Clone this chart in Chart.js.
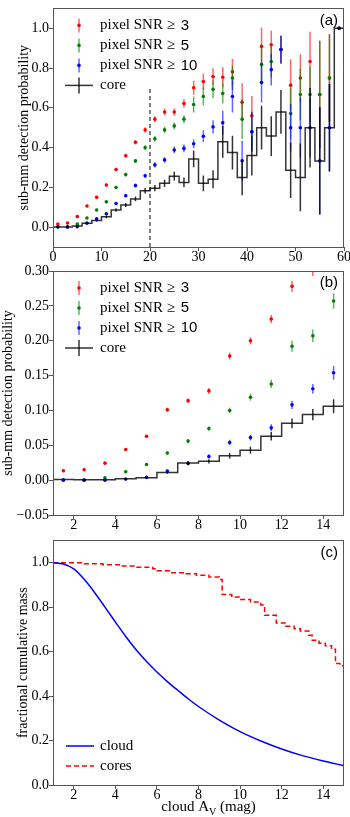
<!DOCTYPE html>
<html>
<head>
<meta charset="utf-8">
<script src="https://cdn.jsdelivr.net/npm/chart.js@4.4.0/dist/chart.umd.min.js"></script>
<style>
  body { margin: 0; background: #fff; width: 350px; height: 817px; position: relative; overflow: hidden; }
  canvas { position: absolute; left: 0; }
</style>
</head>
<body>
<canvas id="chartA" width="350" height="270" style="top:0"></canvas>
<canvas id="chartB" width="350" height="273" style="top:262px"></canvas>
<canvas id="chartC" width="350" height="285" style="top:532px"></canvas>
<script>
// --- panel (a): detection probability in 2 mag bins ---
const binsA = [1, 3, 5, 7, 9, 11, 13, 15, 17, 19, 21, 23, 25, 27, 29, 31, 33, 35, 37, 39, 41, 43, 45, 47, 49, 51, 53, 55, 57, 59];
const snr3A = [0.016, 0.021, 0.053, 0.106, 0.150, 0.212, 0.290, 0.359, 0.427, 0.489, 0.543, 0.579, 0.579, 0.622, 0.701, 0.732, 0.757, 0.754, 0.781, 0.628, 0.560, 0.909, 0.917, 0.893, 0.714, 0.750, 0.833, 0.667, 0.750, 1.000];
const snr3ErrA = [0.004, 0.004, 0.005, 0.006, 0.007, 0.008, 0.009, 0.010, 0.011, 0.013, 0.015, 0.017, 0.018, 0.022, 0.035, 0.040, 0.042, 0.050, 0.065, 0.095, 0.100, 0.095, 0.070, 0.070, 0.130, 0.120, 0.150, 0.270, 0.220, 0];
const snr5A = [0.000, 0.000, 0.016, 0.046, 0.086, 0.127, 0.199, 0.264, 0.333, 0.400, 0.444, 0.489, 0.509, 0.543, 0.617, 0.657, 0.693, 0.672, 0.750, 0.543, 0.480, 0.818, 0.833, 0.893, 0.571, 0.667, 0.667, 0.667, 0.750, 1.000];
const snr5ErrA = [0.002, 0.002, 0.004, 0.005, 0.006, 0.007, 0.008, 0.009, 0.010, 0.012, 0.014, 0.016, 0.017, 0.020, 0.040, 0.045, 0.045, 0.050, 0.060, 0.100, 0.100, 0.100, 0.080, 0.070, 0.130, 0.130, 0.140, 0.270, 0.220, 0];
const snr10A = [0.002, 0.001, 0.002, 0.020, 0.042, 0.067, 0.119, 0.158, 0.209, 0.258, 0.313, 0.338, 0.388, 0.396, 0.419, 0.457, 0.504, 0.525, 0.657, 0.334, 0.480, 0.727, 0.792, 0.893, 0.500, 0.500, 0.500, 0.333, 0.500, 1.000];
const snr10ErrA = [0.002, 0.002, 0.002, 0.004, 0.005, 0.006, 0.007, 0.008, 0.010, 0.011, 0.013, 0.014, 0.017, 0.020, 0.022, 0.030, 0.033, 0.060, 0.080, 0.100, 0.100, 0.100, 0.080, 0.070, 0.120, 0.150, 0.150, 0.270, 0.220, 0];
const coreA = [0.000, 0.000, 0.005, 0.020, 0.033, 0.052, 0.086, 0.111, 0.142, 0.183, 0.196, 0.220, 0.256, 0.225, 0.343, 0.220, 0.241, 0.429, 0.375, 0.250, 0.360, 0.500, 0.458, 0.579, 0.286, 0.250, 0.500, 0.333, 0.500, 1.000];
const coreErrA = [0.002, 0.002, 0.003, 0.005, 0.006, 0.007, 0.009, 0.010, 0.012, 0.014, 0.016, 0.018, 0.022, 0.025, 0.042, 0.040, 0.045, 0.080, 0.085, 0.090, 0.100, 0.110, 0.100, 0.110, 0.140, 0.170, 0.200, 0.270, 0.220, 0];
const xTicksA = [0, 10, 20, 30, 40, 50, 60];
const yTicksA = [0.0, 0.2, 0.4, 0.6, 0.8, 1.0];
const cutA = 20;

// --- panel (b): zoom on low extinction, 1 mag bins ---
const binsB = [1.5, 2.5, 3.5, 4.5, 5.5, 6.5, 7.5, 8.5, 9.5, 10.5, 11.5, 12.5, 13.5, 14.5];
const snr3B = [0.0134, 0.0149, 0.0244, 0.044, 0.063, 0.101, 0.114, 0.128, 0.178, 0.200, 0.231, 0.278, 0.301, 0.330];
const snr3ErrB = [0.002, 0.002, 0.002, 0.002, 0.002, 0.003, 0.003, 0.004, 0.005, 0.005, 0.006, 0.008, 0.008, 0.010];
const snr5B = [0.000, 0.000, 0.0034, 0.012, 0.0225, 0.039, 0.056, 0.074, 0.100, 0.119, 0.138, 0.192, 0.207, 0.257];
const snr5ErrB = [0.001, 0.001, 0.0015, 0.0015, 0.002, 0.002, 0.003, 0.003, 0.004, 0.005, 0.006, 0.008, 0.009, 0.011];
const snr10B = [0.0003, 0.000, 0.000, 0.0015, 0.004, 0.013, 0.024, 0.034, 0.054, 0.061, 0.075, 0.108, 0.131, 0.154];
const snr10ErrB = [0.001, 0.001, 0.001, 0.001, 0.001, 0.002, 0.002, 0.003, 0.004, 0.004, 0.005, 0.006, 0.007, 0.010];
const coreBinsB = [1.5, 2.5, 3.5, 4.5, 5.5, 6.5, 7.5, 8.5, 9.5, 10.5, 11.5, 12.5, 13.5, 14.5, 15.5];
const coreB = [0.001, 0.0005, 0.0005, 0.002, 0.0035, 0.011, 0.0245, 0.027, 0.035, 0.043, 0.063, 0.0815, 0.094, 0.106, 0.119];
const coreErrB = [0.001, 0.001, 0.001, 0.001, 0.001, 0.002, 0.003, 0.003, 0.004, 0.005, 0.006, 0.007, 0.008, 0.010, 0.010];
const xTicksB = [2, 4, 6, 8, 10, 12, 14];
const yTicksB = [-0.05, 0.00, 0.05, 0.10, 0.15, 0.20, 0.25, 0.30];

// --- panel (c): fractional cumulative mass ---
const cloudAv = [1, 1.5, 2, 2.5, 3, 3.5, 4, 4.5, 5, 5.5, 6, 6.5, 7, 7.5, 8, 9, 10, 11, 12, 13, 14, 15];
const cloudFrac = [1.0, 0.994, 0.972, 0.925, 0.866, 0.800, 0.733, 0.668, 0.608, 0.555, 0.508, 0.465, 0.426, 0.388, 0.353, 0.292, 0.240, 0.198, 0.162, 0.132, 0.108, 0.087];
const coresAv = [1, 2.5, 3.4, 4.3, 5.0, 5.8, 6.0, 6.6, 7.4, 7.9, 8.5, 9.0, 9.14, 9.6, 10.0, 10.5, 11.0, 11.18, 11.74, 12.2, 12.6, 12.9, 13.3, 13.47, 13.8, 14.1, 14.4, 14.59, 14.8, 15];
const coresFrac = [1.0, 0.995, 0.991, 0.985, 0.979, 0.972, 0.963, 0.955, 0.950, 0.943, 0.935, 0.924, 0.857, 0.846, 0.834, 0.823, 0.810, 0.763, 0.729, 0.714, 0.703, 0.692, 0.674, 0.651, 0.638, 0.626, 0.610, 0.546, 0.536, 0.534];
const xTicksC = [2, 4, 6, 8, 10, 12, 14];
const yTicksC = [0.0, 0.2, 0.4, 0.6, 0.8, 1.0];

const SERIF = '"Liberation Serif", "DejaVu Serif", serif';
const SANS = '"Liberation Sans", "DejaVu Sans", sans-serif';
const FRAME = '#555';
const COLORS = {
  red: ['#ff0000', 'rgba(255,0,0,0.6)'],
  green: ['#008000', 'rgba(0,128,0,0.6)'],
  blue: ['#0000ff', 'rgba(0,0,255,0.6)'],
  core: 'rgba(0,0,0,0.8)'
};

Chart.defaults.animation = false;
Chart.defaults.plugins.legend.display = false;
Chart.defaults.plugins.tooltip.enabled = false;

// error bars drawn just before each dataset, so stacking follows dataset order
const errorBarPlugin = {
  id: 'errorBars',
  beforeDatasetDraw(chart, args) {
    const ds = chart.data.datasets[args.index];
    if (!ds.errors) return;
    const {ctx, chartArea: a, scales: {x, y}} = chart;
    ctx.save();
    ctx.beginPath();
    ctx.rect(a.left, a.top, a.width, a.height);
    ctx.clip();
    ctx.strokeStyle = ds.errorColor;
    ctx.lineWidth = 1.5;
    ds.data.forEach((p, i) => {
      const e = ds.errors[i];
      if (!e) return;
      const px = x.getPixelForValue(p.x);
      ctx.beginPath();
      ctx.moveTo(px, y.getPixelForValue(p.y - e));
      ctx.lineTo(px, y.getPixelForValue(p.y + e));
      ctx.stroke();
    });
    ctx.restore();
  }
};

// frame, panel letter and hand-made legend
const decorPlugin = {
  id: 'decor',
  afterDraw(chart, args, opts) {
    const {ctx, chartArea: a} = chart;
    ctx.save();
    ctx.strokeStyle = FRAME;
    ctx.lineWidth = 1;
    ctx.strokeRect(Math.round(a.left) + 0.5, Math.round(a.top) + 0.5, Math.round(a.width) - 1, Math.round(a.height));

    ctx.fillStyle = '#000';
    ctx.font = '15px ' + SANS;
    ctx.textAlign = 'right';
    ctx.textBaseline = 'middle';
    ctx.fillText(opts.label, a.right - 6, a.top + 12);

    ctx.textAlign = 'left';
    const mx = a.left + 26, tx = a.left + 47;
    if (opts.legend === 'snr') {
      const rows = [['red', '3'], ['green', '5'], ['blue', '10']];
      rows.forEach(([c, n], i) => {
        const yy = a.top + 17 + 20 * i;
        ctx.strokeStyle = COLORS[c][1];
        ctx.lineWidth = 1.5;
        ctx.beginPath(); ctx.moveTo(mx, yy - 7); ctx.lineTo(mx, yy + 7); ctx.stroke();
        ctx.fillStyle = COLORS[c][0];
        ctx.beginPath(); ctx.arc(mx, yy, 1.8, 0, Math.PI * 2); ctx.fill();
        ctx.fillStyle = '#000';
        ctx.font = '15px ' + SERIF;
        const lead = 'pixel SNR \u2265 ';
        ctx.fillText(lead, tx, yy);
        const w = ctx.measureText(lead).width;
        ctx.font = '15px ' + SANS;
        ctx.fillText(n, tx + w + 2, yy);
      });
      const yy = a.top + 17 + 60;
      ctx.strokeStyle = COLORS.core;
      ctx.lineWidth = 1.5;
      ctx.beginPath(); ctx.moveTo(mx - 14, yy); ctx.lineTo(mx + 14, yy); ctx.stroke();
      ctx.beginPath(); ctx.moveTo(mx, yy - 8); ctx.lineTo(mx, yy + 8); ctx.stroke();
      ctx.fillStyle = '#000';
      ctx.font = '15px ' + SERIF;
      ctx.fillText('core', tx, yy);
    } else if (opts.legend === 'mass') {
      const y1 = a.bottom - 39, y2 = a.bottom - 19;
      ctx.lineWidth = 1.5;
      ctx.strokeStyle = '#0000ff';
      ctx.beginPath(); ctx.moveTo(mx - 13, y1); ctx.lineTo(mx + 15, y1); ctx.stroke();
      ctx.strokeStyle = '#ff0000';
      ctx.setLineDash([5, 3]);
      ctx.beginPath(); ctx.moveTo(mx - 13, y2); ctx.lineTo(mx + 15, y2); ctx.stroke();
      ctx.setLineDash([]);
      ctx.fillStyle = '#000';
      ctx.font = '15px ' + SERIF;
      ctx.fillText('cloud', tx, y1);
      ctx.fillText('cores', tx, y2);

      // x title with subscript V
      const parts = [['cloud A', 15, 0], ['V', 10, 4], [' (mag)', 15, 0]];
      let total = 0;
      parts.forEach(p => { ctx.font = p[1] + 'px ' + SERIF; total += ctx.measureText(p[0]).width; });
      let x0 = (a.left + a.right) / 2 + 10 - total / 2;
      ctx.textBaseline = 'alphabetic';
      parts.forEach(p => {
        ctx.font = p[1] + 'px ' + SERIF;
        ctx.fillText(p[0], x0, a.bottom + 26 + p[2]);
        x0 += ctx.measureText(p[0]).width;
      });
    }
    ctx.restore();
  }
};

function fmt(v, digits) {
  return v.toFixed(digits).replace('-', '\u2212');
}

function xAxis(min, max, ticks, height) {
  return {
    type: 'linear', min, max,
    afterBuildTicks: s => { s.ticks = ticks.map(v => ({value: v})); },
    afterFit: s => { s.height = height; },
    grid: {drawOnChartArea: false, tickLength: 4, color: FRAME},
    border: {display: false},
    ticks: {autoSkip: false, maxRotation: 0, padding: -2, color: '#000', font: {family: SERIF, size: 14}, callback: v => String(v)}
  };
}

function yAxis(min, max, ticks, digits, title, titlePad) {
  return {
    type: 'linear', min, max,
    afterBuildTicks: s => { s.ticks = ticks.map(v => ({value: v})); },
    afterFit: s => { s.width = 53; },
    grid: {drawOnChartArea: false, tickLength: 4, color: FRAME},
    border: {display: false},
    ticks: {autoSkip: false, padding: 0, color: '#000', font: {family: SERIF, size: 14}, callback: v => fmt(v, digits)},
    title: {display: true, text: title, color: '#000', padding: {top: titlePad, bottom: 0}, font: {family: SERIF, size: 14}}
  };
}

function pts(xs, ys) {
  return xs.map((x, i) => ({x: x, y: ys[i]}));
}

function stepData(centers, values, width) {
  const out = centers.map((c, i) => ({x: c - width / 2, y: values[i]}));
  out.push({x: centers[centers.length - 1] + width / 2, y: values[values.length - 1]});
  return out;
}

function snrSet(label, xs, ys, errs, color, order) {
  return {
    label, data: pts(xs, ys), errors: errs, errorColor: COLORS[color][1],
    backgroundColor: COLORS[color][0], borderColor: COLORS[color][0],
    pointRadius: 1.8, pointBorderWidth: 0, order
  };
}

function detectionDatasets(bins, s3, e3, s5, e5, s10, e10, coreBins, core, coreErr, width) {
  return [
    snrSet('pixel SNR \u2265 3', bins, s3, e3, 'red', 5),
    snrSet('pixel SNR \u2265 5', bins, s5, e5, 'green', 4),
    snrSet('pixel SNR \u2265 10', bins, s10, e10, 'blue', 3),
    {
      label: 'core', type: 'line', showLine: true, stepped: 'before',
      data: stepData(coreBins, core, width), borderColor: COLORS.core, borderWidth: 1.5,
      pointRadius: 0, fill: false, order: 2
    },
    {
      label: 'core errors', data: pts(coreBins, core), errors: coreErr, errorColor: COLORS.core,
      pointRadius: 0, order: 1
    }
  ];
}

// (a)
const dsA = detectionDatasets(binsA, snr3A, snr3ErrA, snr5A, snr5ErrA, snr10A, snr10ErrA, binsA, coreA, coreErrA, 2);
dsA.push({
  label: 'cut', type: 'line', showLine: true,
  data: [{x: cutA, y: -0.1}, {x: cutA, y: 0.7}],
  borderColor: '#000', borderWidth: 1, borderDash: [4, 3], pointRadius: 0, order: 0
});
new Chart(document.getElementById('chartA'), {
  type: 'scatter',
  data: {datasets: dsA},
  options: {
    responsive: false,
    layout: {padding: {top: 1, right: 6, left: 0, bottom: 0}},
    scales: {
      x: xAxis(0, 60, xTicksA, 23),
      y: yAxis(-0.1, 1.1, yTicksA, 1, 'sub-mm detection probability', 16)
    },
    plugins: {decor: {label: '(a)', legend: 'snr'}}
  },
  plugins: [errorBarPlugin, decorPlugin]
});

// (b)
new Chart(document.getElementById('chartB'), {
  type: 'scatter',
  data: {datasets: detectionDatasets(binsB, snr3B, snr3ErrB, snr5B, snr5ErrB, snr10B, snr10ErrB, coreBinsB, coreB, coreErrB, 1)},
  options: {
    responsive: false,
    layout: {padding: {top: 9, right: 6, left: 0, bottom: 0}},
    scales: {
      x: xAxis(1, 15, xTicksB, 20),
      y: yAxis(-0.05, 0.30, yTicksB, 2, 'sub-mm detection probability', 0)
    },
    plugins: {decor: {label: '(b)', legend: 'snr'}}
  },
  plugins: [errorBarPlugin, decorPlugin]
});

// (c)
new Chart(document.getElementById('chartC'), {
  type: 'scatter',
  data: {
    datasets: [
      {label: 'cloud', type: 'line', showLine: true, data: pts(cloudAv, cloudFrac), cubicInterpolationMode: 'monotone',
       borderColor: '#0000ff', borderWidth: 1.5, pointRadius: 0, fill: false},
      {label: 'cores', type: 'line', showLine: true, stepped: 'before', data: pts(coresAv, coresFrac),
       borderColor: '#ff0000', borderWidth: 1.5, borderDash: [5, 3], pointRadius: 0, fill: false}
    ]
  },
  options: {
    responsive: false,
    layout: {padding: {top: 8, right: 6, left: 0, bottom: 0}},
    scales: {
      x: xAxis(1, 15, xTicksC, 32),
      y: yAxis(0, 1.1, yTicksC, 1, 'fractional cumulative mass', 15)
    },
    plugins: {decor: {label: '(c)', legend: 'mass'}}
  },
  plugins: [decorPlugin]
});
</script>
</body>
</html>
